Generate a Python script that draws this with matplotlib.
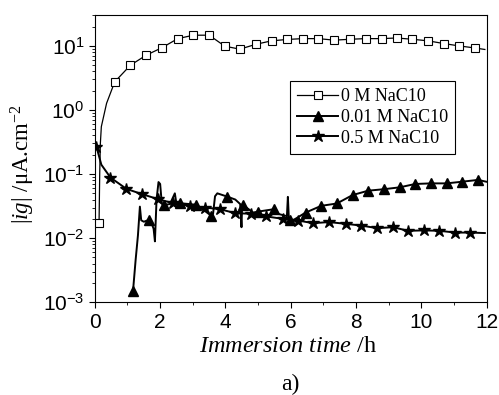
import math
import matplotlib
matplotlib.use("Agg")
import matplotlib.pyplot as plt
from matplotlib.ticker import FixedLocator, LogLocator, FuncFormatter, NullFormatter

plt.rcParams['mathtext.fontset'] = 'custom'
plt.rcParams['mathtext.rm'] = 'Liberation Serif'
plt.rcParams['mathtext.it'] = 'Liberation Serif:italic'
plt.rcParams['mathtext.sf'] = 'Liberation Sans'

# ---- data ----
t_sq = [0.13, 0.15, 0.17, 0.20, 0.36, 0.61, 1.09, 1.58, 2.06, 2.54, 3.02, 3.50, 3.98, 4.44,
        4.93, 5.41, 5.88, 6.36, 6.84, 7.33, 7.81, 8.29, 8.78, 9.24, 9.72, 10.20, 10.68,
        11.15, 11.63, 11.94]
v_sq = [0.0175, 0.1, 0.3, 0.55, 1.27, 2.75, 5.0, 7.2, 9.4, 13.0, 14.7, 14.7, 9.9, 8.9,
        10.6, 12.0, 12.6, 13.0, 13.0, 12.3, 12.7, 13.0, 13.0, 13.3, 12.7, 12.0, 10.9,
        10.0, 9.3, 8.8]
sq_marks = [0] + list(range(5, 29))

t_tri = [1.17, 1.25, 1.32, 1.38, 1.42, 1.50, 1.65, 1.72, 1.80, 1.84, 1.89, 1.95, 2.00,
         2.05, 2.13, 2.30, 2.45, 2.50, 2.61, 2.90, 3.09, 3.35, 3.57, 3.62, 3.68, 3.75,
         4.05, 4.30, 4.45, 4.49, 4.51, 4.53, 4.85, 5.01, 5.49, 5.60, 5.88, 5.91, 5.94,
         5.97, 6.07, 6.45, 6.93, 7.41, 7.89, 8.37, 8.85, 9.33, 9.81, 10.29, 10.77, 11.25,
         11.73, 11.98]
v_tri = [0.0015, 0.0046, 0.011, 0.031, 0.019, 0.018, 0.0192, 0.018, 0.014, 0.0089, 0.04,
         0.075, 0.07, 0.035, 0.033, 0.034, 0.05, 0.034, 0.035, 0.034, 0.033, 0.027, 0.0222,
         0.024, 0.045, 0.05, 0.0445, 0.04, 0.034, 0.0148, 0.033, 0.033, 0.025, 0.026, 0.0283,
         0.024, 0.022, 0.044, 0.02, 0.0195, 0.019, 0.025, 0.0319, 0.0347, 0.047, 0.055,
         0.058, 0.062, 0.070, 0.0715, 0.0715, 0.076, 0.081, 0.076]
tri_marks = [0, 6, 14, 18, 20, 22, 26, 31, 33, 34, 39, 41, 42, 43, 44, 45, 46, 47, 48,
             49, 50, 51, 52]

t_star = [0.0, 0.05, 0.20, 0.48, 0.97, 1.45, 1.94, 2.40, 2.90, 3.37, 3.83, 4.30, 4.79,
          5.25, 5.75, 6.23, 6.68, 7.17, 7.68, 8.16, 8.64, 9.13, 9.59, 10.07, 10.55, 11.04,
          11.49, 11.94]
v_star = [0.30, 0.267, 0.14, 0.088, 0.0586, 0.0485, 0.0405, 0.0351, 0.032, 0.030, 0.0283,
          0.0245, 0.024, 0.0218, 0.020, 0.0188, 0.0171, 0.0178, 0.0167, 0.0157, 0.0143,
          0.0148, 0.0130, 0.0132, 0.0130, 0.0122, 0.0122, 0.0120]
star_marks = [1] + list(range(3, 27))

labels = ["0 M NaC10", "0.01 M NaC10", "0.5 M NaC10"]

# ---- figure ----
fig = plt.figure(figsize=(4.99, 3.95), dpi=100)
ax = fig.add_axes([0.190, 0.235, 0.7856, 0.7273])

ax.plot(t_sq, v_sq, color='black', lw=0.9, marker='s', markersize=5.5,
        markerfacecolor='white', markeredgecolor='black', markeredgewidth=0.8,
        markevery=sq_marks, label=labels[0], zorder=3)
ax.plot(t_tri, v_tri, color='black', lw=1.4, marker='^', markersize=7,
        markerfacecolor='black', markeredgecolor='black',
        markevery=tri_marks, label=labels[1], zorder=2)
ax.plot(t_star, v_star, color='black', lw=1.4, marker='*', markersize=9,
        markerfacecolor='black', markeredgecolor='black',
        markevery=star_marks, label=labels[2], zorder=2)

ax.set_yscale('log')
ax.set_xlim(0, 12)
ax.set_ylim(1e-3, 30.5)

ax.xaxis.set_major_locator(FixedLocator([0, 2, 4, 6, 8, 10, 12]))
ax.xaxis.set_minor_locator(FixedLocator([1, 3, 5, 7, 9, 11]))
ax.yaxis.set_major_locator(FixedLocator([1e-3, 1e-2, 1e-1, 1e0, 1e1]))
ax.yaxis.set_minor_locator(LogLocator(base=10, subs=range(2, 10)))
ax.yaxis.set_minor_formatter(NullFormatter())
ax.yaxis.set_major_formatter(FuncFormatter(
    lambda v, p: r'$\mathsf{10^{%d}}$' % round(math.log10(v))))

ax.tick_params(which='major', direction='out', length=4.5, width=0.8,
               labelsize=15, pad=3)
ax.tick_params(which='minor', direction='out', length=2.5, width=0.6)
ax.tick_params(top=False, right=False, which='both')
for lab in ax.get_xticklabels():
    lab.set_fontfamily('Liberation Sans')
for s in ax.spines.values():
    s.set_linewidth(0.8)

fig.text(0.046, 0.585, r'$|\mathit{ig}|$ /μA.cm$^{-2}$', rotation=90,
         ha='center', va='center', fontsize=16.5, family='Liberation Serif')
fig.text(0.578, 0.122, r'$\mathit{Immersion\ time}$ /h', ha='center', va='center',
         fontsize=17.5, family='Liberation Serif')
fig.text(0.581, 0.027, 'a)', ha='center', va='center', fontsize=17,
         family='Liberation Serif')

leg = ax.legend(loc='upper left', bbox_to_anchor=(0.497, 0.769), borderaxespad=0,
                frameon=True, fancybox=False, edgecolor='black', framealpha=1,
                prop={'family': 'Liberation Serif', 'size': 13},
                handlelength=2.3, handletextpad=0.15, labelspacing=0.2,
                borderpad=0.4)
leg.get_frame().set_linewidth(0.8)

fig.savefig('out.png', dpi=100)
